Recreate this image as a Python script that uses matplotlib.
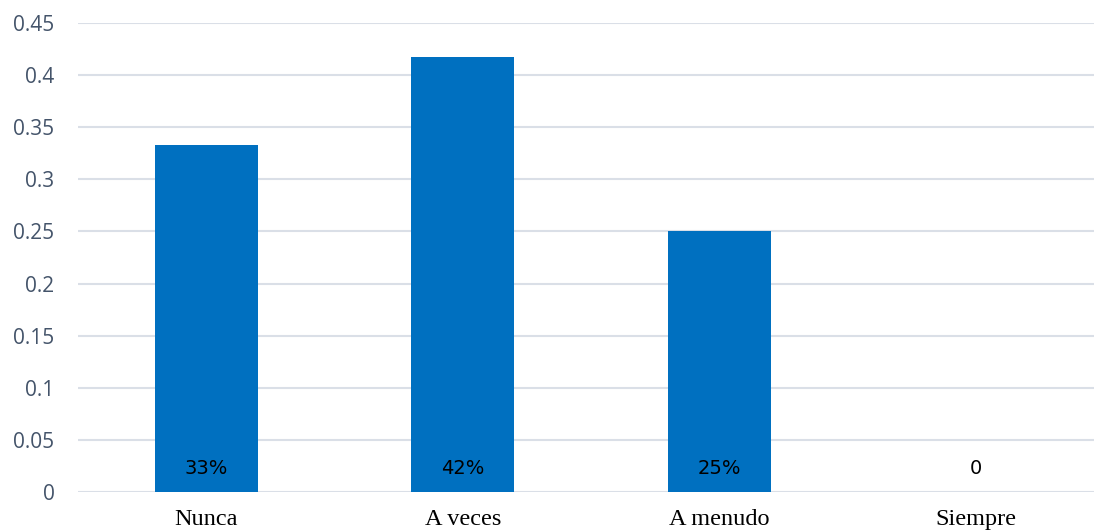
import matplotlib.pyplot as plt
from matplotlib.ticker import MultipleLocator, FuncFormatter

# Chart data
categories = ['Nunca', 'A veces', 'A menudo', 'Siempre']
values = [0.333, 0.417, 0.25, 0]
value_labels = ['33%', '42%', '25%', '0']

BAR_COLOR = '#0070C0'
GRID_COLOR = '#DADFE7'
TICK_COLOR = '#44546A'

fig = plt.figure(figsize=(10.94, 5.32), dpi=100)
ax = fig.add_axes([78 / 1094, 40 / 532, 1026 / 1094, 469 / 532])

x = range(len(categories))
ax.bar(x, values, width=0.40, color=BAR_COLOR, zorder=3)

# value labels sitting at the base of each bar
for xi, lab in zip(x, value_labels):
    ax.text(xi, 0.0225, lab, ha='center', va='center', fontsize=14,
            family=['Liberation Sans Narrow', 'DejaVu Sans'], color='black', zorder=4)

ax.set_xlim(-0.5, 3.5)
ax.set_ylim(0, 0.45)
ax.yaxis.set_major_locator(MultipleLocator(0.05))
ax.yaxis.set_major_formatter(FuncFormatter(lambda v, p: f'{v:.2f}'.rstrip('0').rstrip('.') if v else '0'))
ax.grid(axis='y', color=GRID_COLOR, linewidth=1.5, zorder=0)
ax.set_axisbelow(True)

ax.set_xticks(list(x))
ax.set_xticklabels(categories, family='Liberation Serif', fontsize=17.5, color='black')
for lab in ax.get_yticklabels():
    lab.set_family('Open Sans')
    lab.set_fontsize(15)
    lab.set_color(TICK_COLOR)
ax.tick_params(axis='both', length=0)
ax.tick_params(axis='y', pad=17)
ax.tick_params(axis='x', pad=12)

for side in ['top', 'right', 'left', 'bottom']:
    ax.spines[side].set_visible(False)

fig.savefig('out.png', dpi=100)
